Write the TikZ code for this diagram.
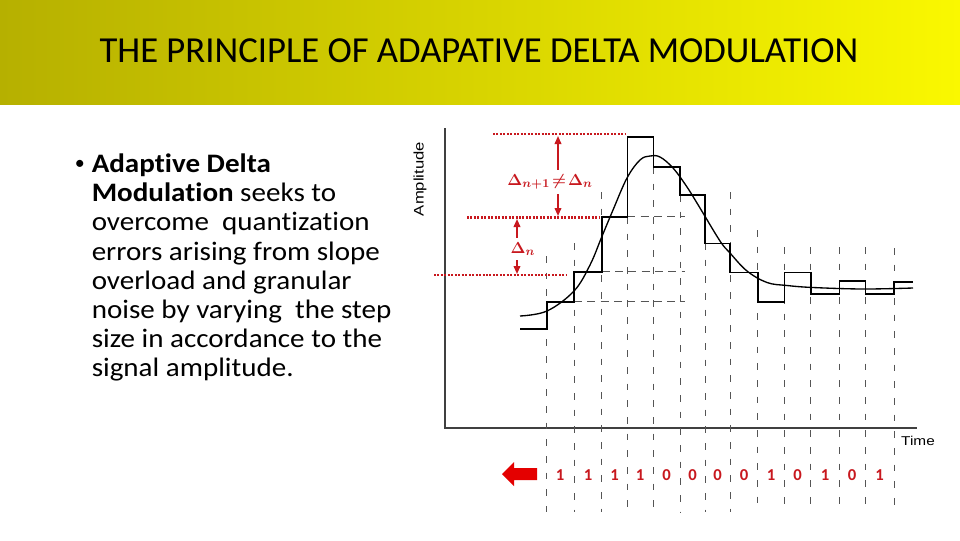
\documentclass[tikz,border=0pt]{standalone}
\usepackage{bm}
\usepackage{fontspec}
\setmainfont{Carlito}[Ligatures=NoCommon]
\newfontfamily\bodyfont{Carlito}[Ligatures=NoCommon, FakeStretch=1.09]
\newfontfamily\axisfont{Liberation Sans}[FakeStretch=1.2]
\usetikzlibrary{arrows.meta}
\definecolor{bandlo}{RGB}{182,176,0}
\definecolor{bandhi}{RGB}{250,248,0}
\definecolor{markred}{RGB}{200,24,30}
\definecolor{blockred}{RGB}{228,0,0}
\definecolor{gridgray}{RGB}{85,85,85}
\tikzset{
  reddots/.style={markred, line width=2pt, dash pattern=on 1.5pt off 1.1pt},
  redarrow/.style={markred, line width=1.2pt, -{Triangle[length=6pt,width=5pt]}},
  gridline/.style={gridgray, line width=0.75pt, dash pattern=on 5pt off 7.5pt},
  levelline/.style={gridgray, line width=0.75pt, dash pattern=on 6pt off 4pt},
  stairline/.style={black, line width=1.2pt},
  bit/.style={markred, font=\fontsize{12.5}{14}\selectfont\bfseries},
  deltalabel/.style={markred, font=\fontsize{12.5}{15}\selectfont\boldmath},
  bodytext/.style={font=\bodyfont\fontsize{20}{21.9}\selectfont, inner sep=0pt},
}
\begin{document}
\begin{tikzpicture}[x=0.75pt, y=-0.75pt]

        \useasboundingbox (0,0) rectangle (960,540);
        \fill[white] (0,0) rectangle (960,540);
        \shade[left color=bandlo, right color=bandhi] (0,0) rectangle (960,104);

        \node[font=\fontsize{27.5}{33}\selectfont] (title) at (479,51) {THE PRINCIPLE OF ADAPATIVE DELTA MODULATION};

        \node[font=\fontsize{15}{18}\selectfont, inner sep=0pt, anchor=base west] (bullet) at (74.5,169) {•};
        \node[bodytext, anchor=north west, align=left] (desc) at (91.5,153.5) {\textbf{Adaptive Delta}\\
          \textbf{Modulation} seeks to\\
          overcome~ quantization\\
          errors arising from slope\\
          overload and granular\\
          noise by varying~ the step\\
          size in accordance to the\\
          signal amplitude.};

        \node[rotate=90, font=\axisfont\fontsize{10.4}{12}\selectfont] (amp) at (420,179) {Amplitude};
        \node[font=\axisfont\fontsize{9.6}{12}\selectfont] (time) at (918,441) {Time};

        \draw[black!75, line width=0.8pt] (445,128) -- (445,428) -- (917,428);

        \foreach \gx/\gtop in {546.7/256, 574/243, 601.7/192, 627.3/217, 653.3/167, 680/195, 705/243,
          730/192, 757.7/230, 784.3/247, 810.7/247, 839.3/247, 865.3/247, 894/248}
          \draw[gridline] (\gx,\gtop) -- (\gx,512);
        \foreach \hy/\hx in {216.7/627.3, 271.7/601.7, 301.7/574}
          \draw[levelline] (\hx,\hy) -- (685,\hy);

        \draw[stairline] (520,329) -- (546.7,329) -- (546.7,301.7) -- (574,301.7) -- (574,271.7)
          -- (601.7,271.7) -- (601.7,216.7) -- (627.3,216.7) -- (627.3,136.7) -- (653.3,136.7)
          -- (653.3,166.7) -- (680,166.7) -- (680,195) -- (705,195) -- (705,243.3) -- (730,243.3)
          -- (730,272.3) -- (757.7,272.3) -- (757.7,301.7) -- (784.3,301.7) -- (784.3,272.3)
          -- (810.7,272.3) -- (810.7,294) -- (839.3,294) -- (839.3,281) -- (865.3,281)
          -- (865.3,294) -- (894,294) -- (894,282) -- (913,282);

        \draw[black, line width=1pt] plot[smooth, tension=0.6] coordinates {(520,316) (547,311) (574,291)
          (590,265) (601.7,237) (613,210) (627,178) (640,160) (650,156) (660,157) (673,168) (687,187)
          (700,208) (720,241) (730,253) (747,271) (767,282.5) (787,285.5) (813,287.5) (863,289) (913,288)};

        \draw[reddots] (493,134) -- (626,134);
        \draw[reddots] (467,217.5) -- (600,217.5);
        \draw[reddots] (434,275) -- (567,275);

        \node[deltalabel] (dnext) at (550,182) {$\Delta_{n+1}\mkern2mu{\neq}\mkern2mu\Delta_n$};
        \node[deltalabel] (dcur) at (523,249) {$\Delta_n$};
        \coordinate (topA) at (558,136);
        \coordinate (midA) at (558,216);
        \coordinate (midB) at (517,219);
        \coordinate (lowB) at (517,274);
        \draw[redarrow] (dnext.north -| topA) -- (topA);
        \draw[redarrow] (dnext.south -| midA) -- (midA);
        \draw[redarrow] (dcur.north -| midB) -- (midB);
        \draw[redarrow] (dcur.south -| lowB) -- (lowB);

        \fill[blockred] (502,474) -- (514,462) -- (514,468) -- (537,468) -- (537,480) -- (514,480) -- (514,486) -- cycle;

        \foreach \bx/\bv [count=\i] in {560/1, 588/1, 614.5/1, 640/1, 666.7/0, 692.5/0, 717.5/0,
          744/0, 771/1, 797.5/0, 825/1, 852/0, 879.7/1}
          \node[bit] (bit\i) at (\bx,475) {\bv};

    \end{tikzpicture}
\end{document}
